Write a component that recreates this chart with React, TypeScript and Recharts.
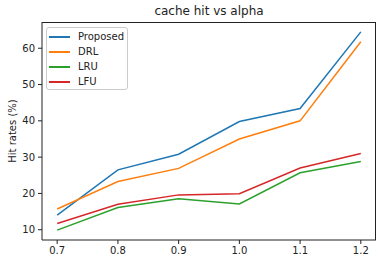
import React from 'react'
import { LineChart, Line, XAxis, YAxis } from 'recharts'

const alphas = [0.7, 0.8, 0.9, 1.0, 1.1, 1.2]
const proposed = [14.0, 26.5, 30.8, 39.8, 43.4, 64.5]
const drl = [15.7, 23.3, 26.9, 35.0, 40.0, 61.8]
const lru = [9.9, 16.1, 18.5, 17.1, 25.7, 28.8]
const lfu = [11.7, 17.0, 19.6, 19.9, 27.0, 31.0]

const xTicks = [0.7, 0.8, 0.9, 1.0, 1.1, 1.2]
const yTicks = [10, 20, 30, 40, 50, 60]

const SERIES = [
  { key: 'proposed', name: 'Proposed', color: '#1f77b4' },
  { key: 'drl', name: 'DRL', color: '#ff7f0e' },
  { key: 'lru', name: 'LRU', color: '#2ca02c' },
  { key: 'lfu', name: 'LFU', color: '#d62728' },
]

const FONT = '"DejaVu Sans", sans-serif'
const INK = '#222'

const data = alphas.map((a, i) => ({
  alpha: a,
  proposed: proposed[i],
  drl: drl[i],
  lru: lru[i],
  lfu: lfu[i],
}))

// matplotlib-style legend box
function LegendBox() {
  return (
    <div
      style={{
        position: 'absolute',
        left: 46,
        top: 27,
        width: 80,
        height: 61,
        border: '1px solid #ccc',
        borderRadius: 3,
        background: 'rgba(255,255,255,0.8)',
        fontFamily: FONT,
        fontSize: 10,
        color: INK,
      }}
    >
      {SERIES.map((s, idx) => (
        <div
          key={s.key}
          style={{
            position: 'absolute',
            left: 2,
            top: 3 + idx * 14.9,
            height: 12,
            display: 'flex',
            alignItems: 'center',
          }}
        >
          <div style={{ width: 21, height: 2, background: s.color }} />
          <span style={{ marginLeft: 8, lineHeight: '12px' }}>{s.name}</span>
        </div>
      ))}
    </div>
  )
}

export default function App() {
  return (
    <div style={{ position: 'absolute', left: 0, top: 0, width: 382, height: 264, background: '#fff' }}>
      <div
        style={{
          position: 'absolute',
          left: 42,
          width: 334,
          top: 4,
          textAlign: 'center',
          fontFamily: FONT,
          fontSize: 12,
          color: INK,
        }}
      >
        cache hit vs alpha
      </div>
      <LineChart width={382} height={264} data={data} margin={{ top: 22, right: 6, bottom: 0, left: 0 }}>
        <XAxis
          dataKey="alpha"
          type="number"
          domain={[0.675, 1.225]}
          ticks={xTicks}
          allowDataOverflow
          height={24}
          tickSize={4}
          tickMargin={3}
          tickFormatter={(v: number) => v.toFixed(1)}
          stroke={INK}
          tick={{ fill: INK, fontSize: 10, fontFamily: FONT }}
        />
        <YAxis
          type="number"
          domain={[7.17, 67.23]}
          ticks={yTicks}
          allowDataOverflow
          width={42}
          tickSize={4}
          tickMargin={3}
          stroke={INK}
          tick={{ fill: INK, fontSize: 10, fontFamily: FONT }}
          label={{
            content: (props: any) => {
              const vb = props.viewBox || { x: 0, y: 22, width: 42, height: 218 }
              const cx = vb.x + 12
              const cy = vb.y + vb.height / 2
              return (
                <text
                  x={cx}
                  y={cy}
                  transform={`rotate(-90 ${cx} ${cy})`}
                  textAnchor="middle"
                  dominantBaseline="central"
                  fontSize={10}
                  fontFamily={FONT}
                  fill={INK}
                >
                  Hit rates (%)
                </text>
              )
            },
          }}
        />
        {SERIES.map((s) => (
          <Line
            key={s.key}
            type="linear"
            dataKey={s.key}
            name={s.name}
            stroke={s.color}
            strokeWidth={1.5}
            dot={false}
            isAnimationActive={false}
          />
        ))}
      </LineChart>
      {/* top and right spines */}
      <div
        style={{
          position: 'absolute',
          left: 42,
          top: 22,
          width: 334,
          height: 218,
          borderTop: `1px solid ${INK}`,
          borderRight: `1px solid ${INK}`,
          boxSizing: 'border-box',
          pointerEvents: 'none',
        }}
      />
      <LegendBox />
    </div>
  )
}
